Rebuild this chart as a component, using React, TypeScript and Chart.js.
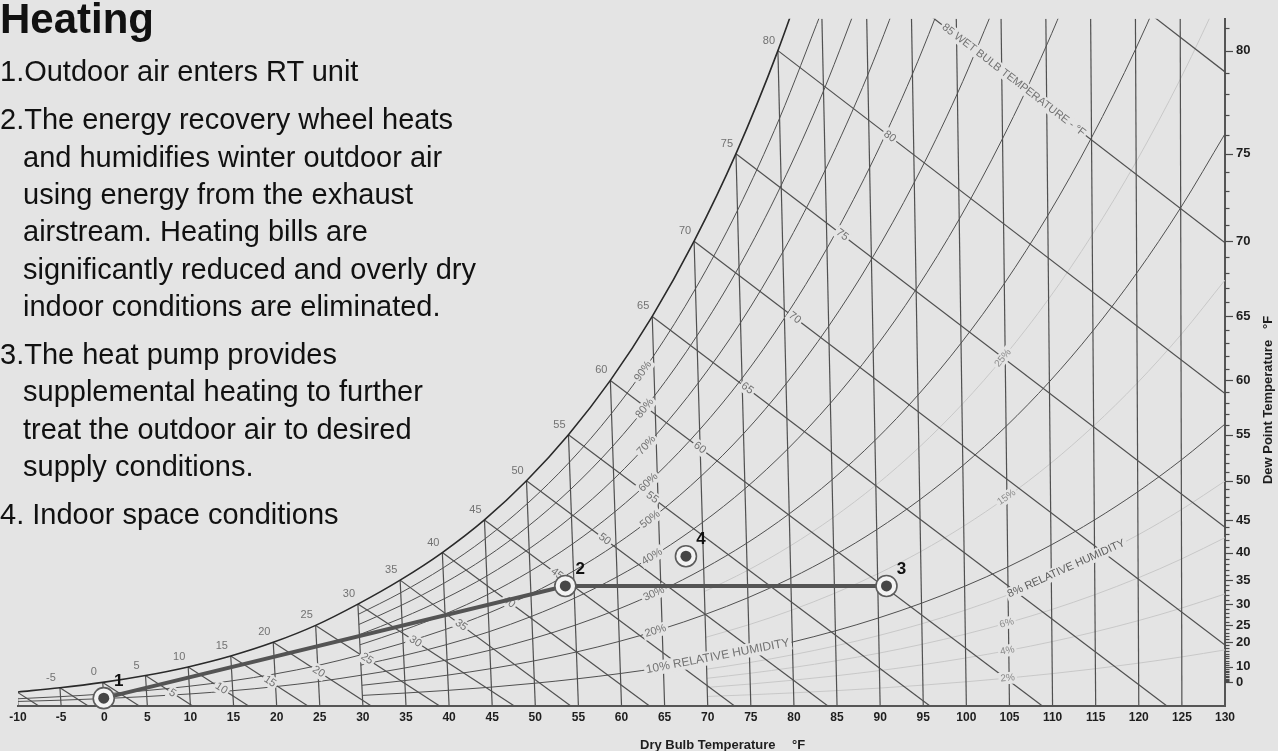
import React, { useEffect, useRef } from "react";
import { Chart, registerables } from "chart.js";

Chart.register(...registerables);

const CW = 1278;
const CH = 751;
const BG = "#e4e4e4";
const GRID = "#505050";
const FAINT = "#c8c8c8";
const TXT_GRAY = "#727272";
const FONT = "'Liberation Sans', Arial, Helvetica, sans-serif";

// chart geometry constants (psychrometric chart at sea level)
const ATM_PSIA = 14.696;
const SKEW = 1.67; // obliqueness of the dry-bulb lines
const W_MAX = 0.02332; // humidity ratio at the top of the plot

// ---------- data ----------
const dryBulbTicks = [-10, -5, 0, 5, 10, 15, 20, 25, 30, 35, 40, 45, 50, 55, 60, 65, 70, 75, 80, 85, 90, 95, 100, 105, 110, 115, 120, 125, 130];
const satTemps = [-10, -5, 0, 5, 10, 15, 20, 25, 30, 35, 40, 45, 50, 55, 60, 65, 70, 75, 80, 85, 90, 95, 100, 105, 110, 115, 120, 125, 130];
const satPressure = [0.0108, 0.0142, 0.0185, 0.024, 0.0309, 0.0396, 0.0505, 0.064, 0.0809, 0.0999, 0.1217, 0.1474, 0.1781, 0.2141, 0.2563, 0.3057, 0.3633, 0.4298, 0.5073, 0.5964, 0.6988, 0.8162, 0.9503, 1.103, 1.2763, 1.473, 1.6945, 1.944, 2.224];
const dewPointTicks = [0, 10, 20, 25, 30, 35, 40, 45, 50, 55, 60, 65, 70, 75, 80];
const dryBulbLineTemps = [-10, -5, 0, 5, 10, 15, 20, 25, 30, 35, 40, 45, 50, 55, 60, 65, 70, 75, 80, 85, 90, 95, 100, 105, 110, 115, 120, 125];
const satLabelTemps = [-5, 0, 5, 10, 15, 20, 25, 30, 35, 40, 45, 50, 55, 60, 65, 70, 75, 80];
const rhMain = [10, 20, 30, 40, 50, 60, 70, 80, 90];
const rhMainStartTemp = [30, 30, -10, 30, -10, 30, 30, 30, 30];
const rhFaint = [2, 4, 6, 8, 15, 25];
const rhFaintStartTemp = 70;
const wetBulbTemps = [-10, -5, 0, 5, 10, 15, 20, 25, 30, 35, 40, 45, 50, 55, 60, 65, 70, 75, 80, 85, 90];
const wetBulbLabelTemps = [5, 10, 15, 20, 25, 30, 35, 40, 45, 50, 55, 60, 65, 70, 75, 80];
const wetBulbTitleTemp = 85;
const wetBulbTitle = "85 WET BULB TEMPERATURE - °F";
const rhLabelTemp = 63;
const rhFaintLabelTemp = 104;
const xTitle = ["Dry Bulb Temperature", "°F"];
const yTitle = "Dew Point Temperature   °F";

const stateNames = ["1", "2", "3", "4"];
const stateDryBulb = [0, 54, 91, 68];
const stateHumRatio = [0.00025, 0.00406, 0.00406, 0.00507];
const processPath = [0, 1, 2];

const heading = "Heating";
const stepLines = [
  "1.Outdoor air enters RT unit",
  "2.The energy recovery wheel heats",
  "and humidifies winter outdoor air",
  "using energy from the exhaust",
  "airstream. Heating bills are",
  "significantly reduced and overly dry",
  "indoor conditions are eliminated.",
  "3.The heat pump provides",
  "supplemental heating to further",
  "treat the outdoor air to desired",
  "supply conditions.",
  "4. Indoor space conditions",
];

// ---------- psychrometric helpers ----------
function pws(T: number): number {
  const n = satTemps.length;
  let i = Math.floor((T - satTemps[0]) / 5);
  i = Math.max(0, Math.min(n - 2, i));
  const t = (T - satTemps[i]) / (satTemps[i + 1] - satTemps[i]);
  return Math.exp(Math.log(satPressure[i]) * (1 - t) + Math.log(satPressure[i + 1]) * t);
}
const wOf = (pw: number) => (0.622 * pw) / (ATM_PSIA - pw);
const wSat = (T: number) => wOf(pws(T));
const wRH = (rh: number) => (T: number) => wOf((rh / 100) * pws(T));
const skewT = (T: number, w: number) => 130 - (130 - T) * (1 + SKEW * w);
const pt = (T: number, w: number) => ({ x: skewT(T, w), y: w });
function wetBulbEnd(Tw: number) {
  const ws = wSat(Tw);
  const K = Tw < 32 ? 1220 - 0.04 * Tw : 1093 - 0.556 * Tw;
  return Tw + (K * ws) / 0.24;
}
function curve(temps: number[], wf: (T: number) => number) {
  const out: { x: number; y: number }[] = [];
  for (const T of temps) {
    const w = wf(T);
    out.push(pt(T, w));
    if (w > W_MAX) break;
  }
  return out;
}

function tag(ctx: CanvasRenderingContext2D, text: string, x: number, y: number, angle: number, align: "left" | "center", size: number, color: string, weight = "") {
  ctx.save();
  ctx.translate(x, y);
  ctx.rotate(angle);
  ctx.font = `${weight} ${size}px ${FONT}`;
  const w = ctx.measureText(text).width;
  const x0 = align === "left" ? 0 : -w / 2;
  ctx.fillStyle = BG;
  ctx.fillRect(x0 - 2, -size / 2 - 1, w + 4, size + 2);
  ctx.fillStyle = color;
  ctx.textAlign = align;
  ctx.textBaseline = "middle";
  ctx.fillText(text, 0, 0);
  ctx.restore();
}

export default function App() {
  const ref = useRef<HTMLCanvasElement>(null);

  useEffect(() => {
    const canvas = ref.current;
    if (!canvas) return;

    const base = { pointRadius: 0, pointHoverRadius: 0, fill: false, borderCapStyle: "butt" as const };
    const datasets: any[] = [];

    // faint RH curves
    rhFaint.forEach((rh) => {
      datasets.push({ ...base, data: curve(satTemps.filter((t) => t >= rhFaintStartTemp), wRH(rh)), borderColor: FAINT, borderWidth: 1, cubicInterpolationMode: "monotone", order: 50 });
    });
    // dry-bulb lines
    dryBulbLineTemps.forEach((T) => {
      const top = Math.min(wSat(T), W_MAX);
      datasets.push({ ...base, data: [{ x: T, y: 0 }, pt(T, top)], borderColor: GRID, borderWidth: 1.2, order: 40 });
    });
    // wet-bulb lines
    wetBulbTemps.forEach((Tw) => {
      datasets.push({ ...base, data: [pt(Tw, wSat(Tw)), { x: wetBulbEnd(Tw), y: 0 }], borderColor: GRID, borderWidth: 1.2, order: 40 });
    });
    // relative humidity curves
    rhMain.forEach((rh, i) => {
      datasets.push({ ...base, data: curve(satTemps.filter((t) => t >= rhMainStartTemp[i]), wRH(rh)), borderColor: GRID, borderWidth: 1, cubicInterpolationMode: "monotone", order: 35 });
    });
    // saturation curve
    datasets.push({ ...base, data: curve(satTemps, wSat), borderColor: "#2a2a2a", borderWidth: 1.6, cubicInterpolationMode: "monotone", order: 30 });

    const processIndex = datasets.length;
    datasets.push({ ...base, data: processPath.map((i) => pt(stateDryBulb[i], stateHumRatio[i])), borderColor: "#545454", borderWidth: 4, order: 3, clip: false });
    const statePts = stateDryBulb.map((T, i) => pt(T, stateHumRatio[i]));
    datasets.push({ data: statePts, showLine: false, pointRadius: 10.5, pointHoverRadius: 10.5, pointBackgroundColor: "#f3f3f3", pointBorderColor: "#5c5c5c", pointBorderWidth: 1.6, order: 2, clip: false });
    datasets.push({ data: statePts, showLine: false, pointRadius: 5.5, pointHoverRadius: 5.5, pointBackgroundColor: "#464646", pointBorderColor: "#464646", pointBorderWidth: 0, order: 1, clip: false });

    const annot = {
      id: "annot",
      beforeDatasetDraw(chart: any, args: any) {
        if (args.index !== processIndex) return;
        const ctx: CanvasRenderingContext2D = chart.ctx;
        const a = chart.chartArea;
        const xs = chart.scales.x;
        const ys = chart.scales.y;
        const P = (T: number, w: number) => ({ x: xs.getPixelForValue(skewT(T, w)), y: ys.getPixelForValue(w) });
        ctx.save();
        ctx.beginPath();
        ctx.rect(a.left, a.top, a.right - a.left, a.bottom - a.top);
        ctx.clip();

        // saturation (dry bulb = dew point) labels
        ctx.font = `11px ${FONT}`;
        ctx.fillStyle = TXT_GRAY;
        ctx.textAlign = "center";
        ctx.textBaseline = "middle";
        satLabelTemps.forEach((T) => {
          const p = P(T, wSat(T));
          ctx.fillText(String(T), p.x - 9, p.y - 10);
        });

        // wet bulb labels
        const wbGeom = (Tw: number) => {
          const s = P(Tw, wSat(Tw));
          const e = { x: xs.getPixelForValue(wetBulbEnd(Tw)), y: ys.getPixelForValue(0) };
          const dx = e.x - s.x;
          const dy = e.y - s.y;
          const L = Math.hypot(dx, dy);
          return { s, e, ux: dx / L, uy: dy / L };
        };
        wetBulbLabelTemps.forEach((Tw) => {
          const g = wbGeom(Tw);
          const d = 25 + 1.45 * Tw;
          tag(ctx, String(Tw), g.s.x + g.ux * d, g.s.y + g.uy * d, Math.atan2(g.uy, g.ux), "center", 11, TXT_GRAY);
        });
        {
          const g = wbGeom(wetBulbTitleTemp);
          const yT = a.top + 7;
          const t = (yT - g.s.y) / g.uy;
          tag(ctx, wetBulbTitle, g.s.x + g.ux * t, yT, Math.atan2(g.uy, g.ux), "left", 11, TXT_GRAY);
        }

        // relative humidity labels
        const angleAlong = (T0: number, wf: (T: number) => number, len: number) => {
          const p0 = P(T0, wf(T0));
          let T = T0;
          let p = p0;
          while (T < 140) {
            T += 0.05;
            p = P(T, wf(T));
            if (Math.hypot(p.x - p0.x, p.y - p0.y) >= len) break;
          }
          return { p0, ang: Math.atan2(p.y - p0.y, p.x - p0.x) };
        };
        const rhTag = (rh: number, T0: number, text: string, size: number, color: string) => {
          ctx.font = `${size}px ${FONT}`;
          const len = ctx.measureText(text).width;
          const wf = wRH(rh);
          const { p0, ang } = angleAlong(T0, wf, len);
          tag(ctx, text, p0.x, p0.y, ang, "left", size, color);
        };
        rhMain.forEach((rh) => {
          rhTag(rh, rhLabelTemp, rh === 10 ? "10% RELATIVE HUMIDITY" : `${rh}%`, rh === 10 ? 12 : 11, TXT_GRAY);
        });
        rhFaint.forEach((rh) => {
          if (rh === 8) rhTag(rh, rhFaintLabelTemp + 1, "8% RELATIVE HUMIDITY", 11, "#5e5e5e");
          else rhTag(rh, rhFaintLabelTemp, `${rh}%`, 10, "#8a8a8a");
        });
        ctx.restore();
      },
      afterDraw(chart: any) {
        const ctx: CanvasRenderingContext2D = chart.ctx;
        const a = chart.chartArea;
        const xs = chart.scales.x;
        const ys = chart.scales.y;
        ctx.save();
        // right axis tick marks (every degree of dew point)
        ctx.strokeStyle = "#4a4a4a";
        ctx.lineWidth = 1.2;
        for (let d = 0; d <= 85; d++) {
          const w = wSat(d);
          if (w > W_MAX) break;
          const y = Math.round(ys.getPixelForValue(w)) + 0.5;
          const len = dewPointTicks.includes(d) ? 8 : 4.5;
          ctx.beginPath();
          ctx.moveTo(a.right, y);
          ctx.lineTo(a.right + len, y);
          ctx.stroke();
        }
        // axis titles
        ctx.fillStyle = "#1e1e1e";
        ctx.font = `bold 13px ${FONT}`;
        ctx.textAlign = "left";
        ctx.textBaseline = "middle";
        ctx.fillText(xTitle[0], 640, 745);
        ctx.fillText(xTitle[1], 792, 745);
        ctx.translate(1268, 400);
        ctx.rotate(-Math.PI / 2);
        ctx.textAlign = "center";
        ctx.fillText(yTitle, 0, 0);
        ctx.restore();

        // state point labels
        ctx.save();
        ctx.fillStyle = "#111";
        ctx.font = `bold 17px ${FONT}`;
        ctx.textAlign = "center";
        ctx.textBaseline = "middle";
        stateNames.forEach((name, i) => {
          const x = xs.getPixelForValue(skewT(stateDryBulb[i], stateHumRatio[i]));
          const y = ys.getPixelForValue(stateHumRatio[i]);
          ctx.fillText(name, x + 15, y - 17);
        });
        ctx.restore();
      },
    };

    const chart = new Chart(canvas, {
      type: "line",
      data: { datasets },
      plugins: [annot],
      options: {
        responsive: false,
        animation: false,
        devicePixelRatio: 1,
        events: [],
        layout: { padding: { left: 18, top: 13, right: 0, bottom: 0 } },
        plugins: { legend: { display: false }, tooltip: { enabled: false } },
        scales: {
          x: {
            type: "linear",
            position: "bottom",
            min: -10,
            max: 130,
            afterBuildTicks: (s: any) => {
              s.ticks = dryBulbTicks.map((v) => ({ value: v }));
            },
            afterFit: (s: any) => {
              s.height = CH - 705.5;
            },
            ticks: { autoSkip: false, maxRotation: 0, padding: 5, color: "#1e1e1e", font: { family: FONT, size: 12, weight: "bold" }, callback: (v: any) => String(v) },
            grid: { display: false, drawTicks: false },
            border: { display: true, color: "#555", width: 2 },
          },
          y: {
            type: "linear",
            position: "right",
            min: 0,
            max: W_MAX,
            afterBuildTicks: (s: any) => {
              s.ticks = dewPointTicks.map((d) => ({ value: wSat(d) }));
            },
            afterFit: (s: any) => {
              s.width = CW - 1225;
            },
            ticks: { autoSkip: false, padding: 11, color: "#1e1e1e", font: { family: FONT, size: 13, weight: "bold" }, callback: (_v: any, i: number) => String(dewPointTicks[i]) },
            grid: { display: false, drawTicks: false },
            border: { display: true, color: "#555", width: 2 },
          },
        },
      } as any,
    });
    return () => chart.destroy();
  }, []);

  // text block layout
  const BODY = 29;
  const lines: { text: string; left: number; baseline: number }[] = [];
  let b = 82;
  stepLines.forEach((t, i) => {
    const newPara = /^\d/.test(t);
    if (i > 0) b += 37.3 + (newPara ? 10.7 : 0);
    lines.push({ text: t, left: newPara ? 0 : 23, baseline: b });
  });

  return (
    <div style={{ position: "fixed", left: 0, top: 0, width: CW, height: CH, background: BG, overflow: "hidden" }}>
      <canvas ref={ref} width={CW} height={CH} style={{ position: "absolute", left: 0, top: 0, width: CW, height: CH }} />
      <div style={{ position: "absolute", left: 0, top: 33.3 - 42 * 0.8465, fontFamily: FONT, fontWeight: "bold", fontSize: 42, lineHeight: "42px", color: "#111", whiteSpace: "nowrap" }}>{heading}</div>
      {lines.map((l, i) => (
        <div key={i} style={{ position: "absolute", left: l.left, top: l.baseline - BODY * 0.8465, fontFamily: FONT, fontSize: BODY, lineHeight: `${BODY}px`, color: "#111", whiteSpace: "nowrap" }}>
          {l.text}
        </div>
      ))}
    </div>
  );
}
